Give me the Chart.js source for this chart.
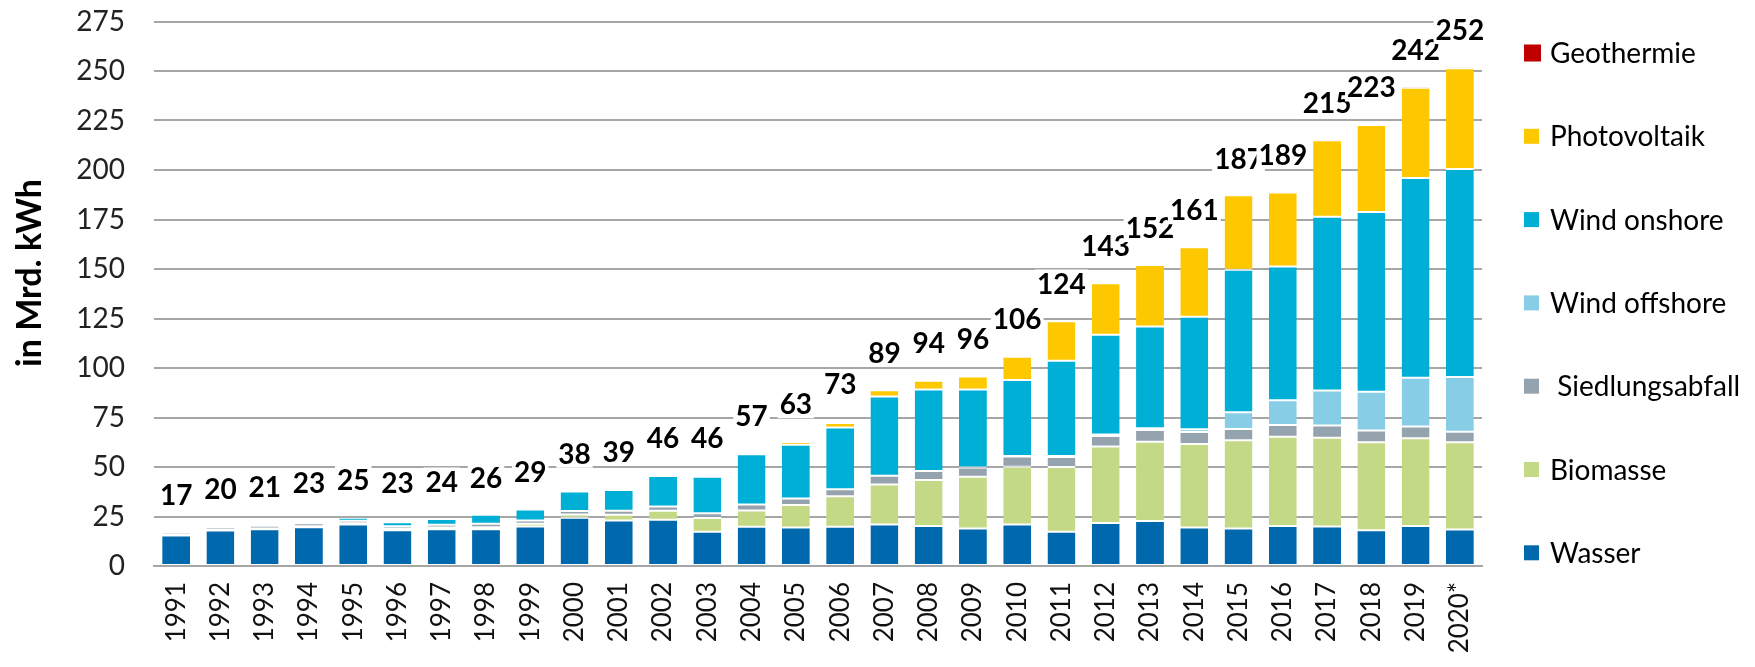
<!DOCTYPE html>
<html>
<head>
<meta charset="utf-8">
<script src="https://cdn.jsdelivr.net/npm/chart.js@4/dist/chart.umd.min.js"></script>
<style>
html,body{margin:0;padding:0;background:#fff;}
canvas{display:block;}
</style>
</head>
<body>
<canvas id="c" width="1755" height="667" style="width:1755px;height:667px"></canvas>
<script>
const years = ['1991','1992','1993','1994','1995','1996','1997','1998','1999','2000','2001','2002','2003','2004','2005','2006','2007','2008','2009','2010','2011','2012','2013','2014','2015','2016','2017','2018','2019','2020*'];
const wasser = [15.4,17.9,18.5,19.6,21.0,18.1,18.5,18.5,20.0,24.4,23.0,23.4,17.3,19.8,19.5,19.8,21.0,20.2,18.9,20.9,17.3,21.7,22.7,19.4,18.9,20.2,19.9,18.0,20.2,18.4];
const biomasse = [0.2,0.3,0.4,0.5,0.6,0.7,0.9,1.1,1.3,1.6,2.9,4.5,7.0,8.2,11.3,15.4,20.2,23.2,26.2,29.2,32.7,38.6,40.1,42.2,44.6,45.1,44.9,44.5,44.3,44.1];
const siedlungsabfall = [1.2,1.3,1.4,1.5,1.3,1.3,1.4,1.8,1.7,1.8,2.0,2.2,2.4,3.0,3.3,3.6,4.4,4.6,4.6,5.2,5.0,5.4,5.9,6.1,5.7,5.9,6.2,5.9,6.0,5.3];
const windOffshore = [0,0,0,0,0,0,0,0,0,0,0,0,0,0,0,0,0,0,0.04,0.2,0.6,0.7,0.9,1.4,8.4,12.5,17.6,19.6,24.6,27.7];
const windOnshore = [0.1,0.3,0.6,0.9,1.5,2.0,3.0,4.5,5.5,9.8,10.5,15.4,18.4,25.5,27.2,31.2,40.0,41.2,39.4,38.5,48.1,50.4,51.4,56.8,72.0,67.6,87.8,90.8,100.9,105.0];
const photovoltaik = [0,0,0,0,0,0,0,0,0,0.1,0.2,0.2,0.3,0.6,1.3,2.2,3.1,4.4,6.6,11.7,19.9,26.0,31.0,35.1,37.7,37.3,38.6,43.9,45.6,50.9];
const geothermie = [0,0,0,0,0,0,0,0,0,0,0,0,0,0.0002,0.0002,0.0004,0.0004,0.02,0.02,0.03,0.02,0.03,0.08,0.1,0.13,0.18,0.16,0.18,0.2,0.23];
const totals = [17,20,21,23,25,23,24,26,29,38,39,46,46,57,63,73,89,94,96,106,124,143,152,161,187,189,215,223,242,252];
const yTitle = 'in Mrd. kWh';

const FONT = 'Lato, "Open Sans", sans-serif';
const bw = {top:1,bottom:1,left:0,right:0};
function ds(label, data, color, legendLabel){
  return {label, legendLabel: legendLabel || label, data, backgroundColor: color, borderColor:'#ffffff', borderWidth: bw, borderSkipped:false};
}
const datasets = [
  ds('Wasser', wasser, '#0068AD'),
  ds('Biomasse', biomasse, '#C4D985'),
  ds('Siedlungsabfall', siedlungsabfall, '#95A3AF', ' Siedlungsabfall'),
  ds('Wind offshore', windOffshore, '#87CDE6'),
  ds('Wind onshore', windOnshore, '#00AFD6'),
  ds('Photovoltaik', photovoltaik, '#FEC800'),
  Object.assign(ds('Geothermie', geothermie, '#C00000'), {borderColor:'#F2A0A0'})
];

const totalsPlugin = {
  id:'totals',
  afterDatasetsDraw(chart){
    const ctx = chart.ctx, x = chart.scales.x, y = chart.scales.y;
    ctx.save();
    ctx.font = 'bold 28px ' + FONT;
    ctx.textAlign = 'center';
    ctx.textBaseline = 'middle';
    totals.forEach((t, i) => {
      const px = x.getPixelForValue(i);
      const py = y.getPixelForValue(t) - 37;
      const txt = String(t);
      const w = ctx.measureText(txt).width;
      ctx.fillStyle = '#fff';
      ctx.fillRect(px - w/2 - 2, py - 14, w + 4, 28);
      ctx.fillStyle = '#000';
      ctx.fillText(txt, px, py + 1);
    });
    ctx.restore();
  }
};

const legendPlugin = {
  id:'customLegend',
  afterDraw(chart){
    const ctx = chart.ctx;
    const items = chart.data.datasets.slice().reverse();
    ctx.save();
    ctx.font = '28px ' + FONT;
    ctx.textBaseline = 'middle';
    ctx.textAlign = 'left';
    items.forEach((d, i) => {
      const cy = 53 + i * 83.3;
      const s = i === 0 ? 17 : 15;
      ctx.fillStyle = d.backgroundColor;
      ctx.fillRect(1524, cy - s/2, s, s);
      ctx.fillStyle = '#000';
      ctx.fillText(d.legendLabel, 1550, cy + 1);
    });
    ctx.restore();
  }
};

const titlePlugin = {
  id:'yTitle',
  afterDraw(chart){
    const ctx = chart.ctx;
    ctx.save();
    ctx.translate(30, 273);
    ctx.rotate(-Math.PI/2);
    ctx.font = 'bold 34px ' + FONT;
    ctx.fillStyle = '#000';
    ctx.textAlign = 'center';
    ctx.textBaseline = 'middle';
    ctx.fillText(yTitle, 0, 0);
    ctx.restore();
  }
};

const TARGET_TOP = 21.5;
const chart = new Chart(document.getElementById('c'), {
  type:'bar',
  data:{labels: years, datasets},
  options:{
    responsive:false,
    animation:false,
    devicePixelRatio:1,
    layout:{padding:{top:21, right:273, left:0, bottom:0}},
    datasets:{bar:{barPercentage:0.63, categoryPercentage:1}},
    plugins:{legend:{display:false}, tooltip:{enabled:false}, title:{display:false}},
    scales:{
      x:{
        stacked:true,
        grid:{display:false, drawTicks:false},
        border:{display:true, color:'#A6A6A6', width:2},
        ticks:{autoSkip:false, minRotation:90, maxRotation:90, padding:16, color:'#111', font:{family:FONT, size:26}},
        afterFit(s){ s.height = 101; s.paddingTop = 0; s.paddingBottom = 0; }
      },
      y:{
        stacked:true, min:0, max:275,
        grid:{color:'#A6A6A6', lineWidth:2, drawTicks:false},
        border:{display:false},
        ticks:{stepSize:25, padding:29, color:'#222', font:{family:FONT, size:28}},
        afterFit(s){ s.width = 154; s.paddingTop = 0; s.paddingBottom = 0; }
      }
    }
  },
  plugins:[totalsPlugin, legendPlugin, titlePlugin]
});
for (let k = 0; k < 3; k++) {
  const diff = chart.chartArea.top - TARGET_TOP;
  if (Math.abs(diff) < 0.5) break;
  chart.options.layout.padding.top -= diff;
  chart.update();
}
</script>
</body>
</html>
